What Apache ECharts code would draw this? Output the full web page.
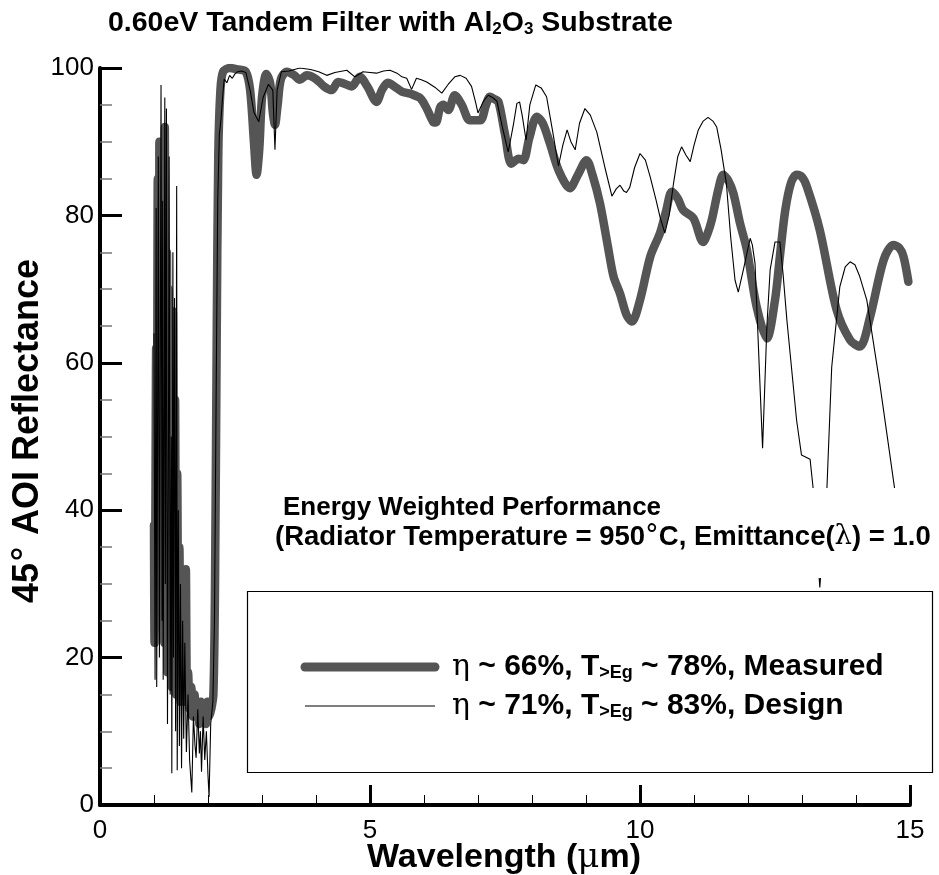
<!DOCTYPE html>
<html>
<head>
<meta charset="utf-8">
<script src="https://cdn.jsdelivr.net/npm/echarts@6/dist/echarts.min.js"></script>
<style>
html,body{margin:0;padding:0;background:#fff;}
#chart{width:939px;height:875px;}
</style>
</head>
<body>
<div id="chart"></div>
<script>
// ---- Data (wavelength in µm, reflectance in %) ----
const measuredX = [1.00,1.01,1.02,1.04,1.05,1.07,1.09,1.10,1.12,1.14,1.15,1.17,1.19,1.20,1.22,1.24,1.25,1.27,1.29,1.31,1.33,1.35,1.37,1.39,1.41,1.43,1.45,1.47,1.49,1.51,1.53,1.55,1.57,1.59,1.61,1.63,1.66,1.69,1.72,1.75,1.78,1.81,1.84,1.87,1.90,1.93,1.96,1.99,2.02,2.06,2.10,
  2.13,2.16,2.19,2.23,2.28,2.40,2.55,2.70,2.78,2.85,2.90,2.95,3.00,3.08,3.15,3.20,3.24,3.29,3.35,3.46,3.60,3.70,3.83,4.00,4.15,4.29,4.41,4.55,4.66,4.81,4.95,5.12,5.22,5.33,5.45,5.59,5.75,5.93,6.05,6.17,6.22,6.30,6.36,6.45,6.57,6.70,6.85,7.04,7.15,7.22,7.30,7.38,7.50,7.62,7.75,7.84,7.95,8.09,8.20,8.33,8.50,8.70,8.85,9.01,9.12,9.26,9.40,9.51,9.63,9.75,9.85,10.00,10.19,10.37,10.48,10.59,10.70,10.80,10.99,11.17,11.25,11.33,11.45,11.54,11.63,11.73,11.85,11.98,12.16,12.35,12.50,12.59,12.69,12.80,12.90,13.00,13.09,13.33,13.64,13.89,14.07,14.26,14.51,14.69,14.80,14.88,14.97];
const measuredY = [38,22,30,62,24,85,35,90,28,88,40,80,22,92,38,75,18,70,24,60,16,67,20,55,15,45,22,35,14,28,16,22,14,32,15,18,13,16,12,15,12,14,11,14,12,13,11,14,12,13,15,
  30,62,88,97,99.5,100,99.8,99.5,97,90,85.5,89,96,99.2,98,94,92.3,95,98.5,99.5,99,98.4,99,98.5,97.5,97,98.1,97.8,97.5,98.8,97.5,95.4,97,98,97.5,96.8,96.5,95.9,94.5,92.7,92.6,94.7,95.0,94.3,96.3,95,92.9,92.9,95,96.1,95.8,95.4,91,87.0,87.7,87.5,90.5,93.4,92.5,89.8,86,83.7,85.5,87.5,85.5,81.6,76,71.7,69.4,66.5,65.6,68.5,74.4,77.6,80.5,83.2,82.3,80.7,79.6,76.4,77.5,79.4,83.5,85.5,84.8,83.0,79,75.3,67.6,63.3,68.5,74.4,80.7,84.5,85.5,85.2,83.9,78.0,67.2,63.1,62.2,66.2,73.9,76.0,75.6,74.4,71.0];

const designX = [1.00,1.02,1.04,1.05,1.07,1.08,1.10,1.12,1.13,1.15,1.16,1.17,1.19,1.20,1.21,1.23,1.24,1.25,1.27,1.28,1.30,1.32,1.33,1.35,1.36,1.38,1.40,1.42,1.43,1.45,1.47,1.49,1.51,1.53,1.55,1.57,1.60,1.63,1.66,1.70,1.73,1.76,1.78,1.81,1.84,1.86,1.88,1.91,1.94,1.97,2.00,2.02,2.05,2.09,
  2.12,2.15,2.18,2.21,2.24,2.27,2.30,2.35,2.40,2.45,2.50,2.55,2.62,2.70,2.78,2.85,2.94,3.02,3.12,3.20,3.24,3.28,3.36,3.50,3.70,3.90,4.05,4.20,4.35,4.57,4.72,4.87,5.00,5.12,5.25,5.37,5.50,5.59,5.68,5.77,5.86,5.95,6.05,6.20,6.33,6.45,6.57,6.67,6.78,6.88,6.95,7.00,7.10,7.19,7.27,7.35,7.45,7.56,7.66,7.72,7.77,7.82,7.89,7.96,8.07,8.17,8.27,8.38,8.49,8.57,8.65,8.72,8.80,8.88,8.98,9.08,9.20,9.35,9.48,9.56,9.63,9.70,9.75,9.81,9.90,10.00,10.10,10.19,10.30,10.37,10.46,10.54,10.62,10.70,10.77,10.85,10.93,11.00,11.08,11.17,11.26,11.35,11.42,11.50,11.60,11.68,11.76,11.82,11.92,12.04,12.08,12.13,12.27,12.35,12.41,12.50,12.59,12.65,12.72,12.90,12.99,13.15,13.21,13.33,13.46,13.55,13.70,13.80,13.89,13.98,14.07,14.20,14.44,14.72,14.85,15.00];
const designY = [64,17,81,16,60,88,20,70,97.7,25,82,17,60,96,30,94.5,40,11,55,88,15,50,4.3,75,20,68.8,10,84,4.7,40,8,30,5,25,9,22,7.2,15,6,1.7,12,8,6.4,13,7,10,4.5,12,6.1,10,4,1.1,11,14,
  25,55,82,91,93,96,98.5,98,99,98.6,99.2,99.5,99.6,99.4,97,94,92.7,96,97.8,97,88.9,97,99.5,99.6,100,99.8,99.5,99,99.4,99.7,98.8,99.5,99.4,99.3,99.6,99.7,99.3,98.8,98.6,97.1,98.6,98.4,98.1,97.4,96.6,97.8,98.8,99,98.6,97.5,95.5,93.9,95.5,96.3,96,95.5,92,88.6,92.5,95.2,95.4,93.5,90.2,95,97.7,97.3,96.1,91.5,86.7,89.5,91.6,90,88.9,92.5,94.5,93.6,91.3,86.5,82.6,83.6,84.1,83.3,83.1,83.8,86.5,88.4,87.5,85.2,82,79.8,77.6,80,84.3,88,89.3,88.2,87.3,89.5,91.6,92.8,93.3,92.8,92.0,89,84.3,77,71.2,69.6,72.8,76.9,76,73.5,48.4,65,72.6,76.4,76.4,72,65.8,52.2,47.5,46.9,42.7,29.5,42.7,59.4,70.3,73.0,73.7,73.3,71.7,68.5,57.2,42.7,37,32];

const xTicks = [0, 5, 10, 15];
const yTicks = [0, 20, 40, 60, 80, 100];

const titleText = '0.60eV Tandem Filter with Al{sub|2}O{sub|3} Substrate';
const xName = 'Wavelength ({g|μ}m)';
const yName = '45{g|°} AOI Reflectance';
const noteLine1 = 'Energy Weighted Performance';
const noteLine2 = '(Radiator Temperature = 950{g|°}C, Emittance({g|λ}) = 1.0';
const legendMeasured = '{g|η} ~ 66%, T{sub|>Eg} ~ 78%, Measured';
const legendDesign = '{g|η} ~ 71%, T{sub|>Eg} ~ 83%, Design';

function pairs(xs, ys) { return xs.map((x, i) => [x, ys[i]]); }

const FONT = '"Liberation Sans", Arial, Helvetica, sans-serif';

const chart = echarts.init(document.getElementById('chart'), null, {renderer: 'canvas'});

function richText(size) {
  return {
    sub: {fontFamily: FONT, fontWeight: 'bold', fontSize: Math.round(size * 0.6), verticalAlign: 'bottom', padding: [Math.round(size*0.4),0,0,0], fill: '#000', color: '#000'},
    g: {fontFamily: '"DejaVu Serif", "Liberation Serif", serif', fontWeight: 'normal', fontSize: size, fill: '#000', color: '#000'}
  };
}

const option = {
  animation: false,
  backgroundColor: '#fff',
  grid: {left: 100, right: 29, top: 68, bottom: 70, containLabel: false},
  xAxis: {
    type: 'value', min: 0, max: 15, interval: 5,
    axisLine: {show: true, onZero: false, lineStyle: {color: '#000', width: 4}},
    axisTick: {show: true, inside: true, length: 20, lineStyle: {color: '#000', width: 3}},
    minorTick: {show: true, splitNumber: 5, length: 10, lineStyle: {color: '#000', width: 1}},
    axisLabel: {color: '#000', fontSize: 26, fontFamily: FONT, margin: 13,
      formatter: v => (xTicks.indexOf(v) >= 0 ? String(v) : '')},
    splitLine: {show: false}
  },
  yAxis: {
    type: 'value', min: 0, max: 100, interval: 20,
    axisLine: {show: true, onZero: false, lineStyle: {color: '#000', width: 4}},
    axisTick: {show: true, inside: true, length: 22, lineStyle: {color: '#000', width: 3}},
    minorTick: {show: true, splitNumber: 4, length: 12, lineStyle: {color: '#777', width: 1.5}},
    axisLabel: {color: '#000', fontSize: 26, fontFamily: FONT, margin: 6,
      formatter: v => (yTicks.indexOf(v) >= 0 ? String(v) : '')},
    splitLine: {show: false}
  },
  series: [
    {
      name: 'Measured', type: 'line', data: pairs(measuredX, measuredY),
      showSymbol: false, smooth: 0.3, clip: true, z: 2,
      lineStyle: {color: '#555555', width: 8.5, cap: 'round', join: 'round'}
    },
    {
      name: 'Design', type: 'line', data: pairs(designX, designY),
      showSymbol: false, smooth: false, clip: true, z: 3,
      lineStyle: {color: '#000', width: 1.1}
    }
  ],
  graphic: [
    {type: 'text', z: 50, x: 108, y: 23, style: {text: titleText, font: 'bold 28.5px ' + FONT, fill: '#000', textVerticalAlign: 'middle', rich: richText(28.5)}},
    {type: 'text', z: 50, x: 504, y: 858, style: {text: xName, font: 'bold 34px ' + FONT, fill: '#000', textAlign: 'center', textVerticalAlign: 'middle', rich: richText(34)}},
    {type: 'text', z: 50, x: 28, y: 431, rotation: Math.PI / 2, style: {text: yName, font: 'bold 36px ' + FONT, fill: '#000', textAlign: 'center', textVerticalAlign: 'middle', rich: richText(36)}},
    {type: 'rect', z: 40, shape: {x: 268, y: 488, width: 671, height: 90}, style: {fill: '#fff'}},
    {type: 'text', z: 50, x: 283, y: 508, style: {text: noteLine1, font: 'bold 26px ' + FONT, fill: '#000', textVerticalAlign: 'middle'}},
    {type: 'text', z: 50, x: 275, y: 537, style: {text: noteLine2, font: 'bold 27.5px ' + FONT, fill: '#000', textVerticalAlign: 'middle', rich: richText(27.5)}},
    {type: 'rect', z: 40, shape: {x: 247.5, y: 591.5, width: 685, height: 181}, style: {fill: '#fff', stroke: '#000', lineWidth: 1.2}},
    {type: 'line', z: 50, shape: {x1: 305, y1: 667, x2: 435, y2: 667}, style: {stroke: '#555555', lineWidth: 9, lineCap: 'round'}},
    {type: 'line', z: 50, shape: {x1: 305, y1: 706, x2: 435, y2: 706}, style: {stroke: '#555555', lineWidth: 1.4}},
    {type: 'text', z: 50, x: 452, y: 667, style: {text: legendMeasured, font: 'bold 30px ' + FONT, fill: '#000', textVerticalAlign: 'middle', rich: richText(30)}},
    {type: 'text', z: 50, x: 452, y: 706, style: {text: legendDesign, font: 'bold 30px ' + FONT, fill: '#000', textVerticalAlign: 'middle', rich: richText(30)}}
  ]
};
chart.setOption(option);
</script>
</body>
</html>
